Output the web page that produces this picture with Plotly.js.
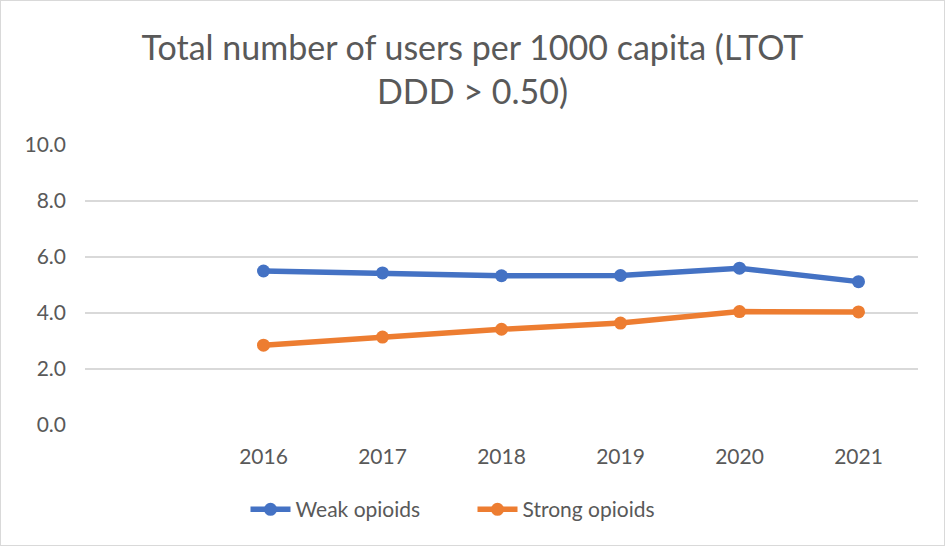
<!DOCTYPE html>
<html>
<head>
<meta charset="utf-8">
<script src="https://cdn.plot.ly/plotly-3.0.1.min.js"></script>
<style>
  html, body { margin: 0; padding: 0; background: #fff; }
  #chart { width: 943px; height: 544px; border: 1px solid #d9d9d9; }
</style>
</head>
<body>
<div id="chart"></div>
<script>
const years = [2016, 2017, 2018, 2019, 2020, 2021];
const yearLabels = ["2016", "2017", "2018", "2019", "2020", "2021"];
const weakOpioids = [5.50, 5.43, 5.33, 5.34, 5.60, 5.12];
const strongOpioids = [2.85, 3.14, 3.42, 3.64, 4.05, 4.04];
const yTicks = [0, 2, 4, 6, 8, 10];
const yTickLabels = ["0.0", "2.0", "4.0", "6.0", "8.0", "10.0"];

const fontFam = "Lato, 'Open Sans', sans-serif";
const grey = "#595959";

const traces = [
  {
    x: years, y: weakOpioids, name: "Weak opioids", type: "scatter", mode: "lines+markers",
    line: { color: "#4472C4", width: 5.5 },
    marker: { color: "#4472C4", size: 13 }
  },
  {
    x: years, y: strongOpioids, name: "Strong opioids", type: "scatter", mode: "lines+markers",
    line: { color: "#ED7D31", width: 5.5 },
    marker: { color: "#ED7D31", size: 13 }
  }
];

const layout = {
  width: 943, height: 544,
  paper_bgcolor: "#ffffff", plot_bgcolor: "#ffffff",
  margin: { l: 84, r: 26, t: 144, b: 120 },
  font: { family: fontFam, color: grey, size: 21 },
  title: {
    text: "Total number of users per 1000 capita (LTOT<br>DDD > 0.50)",
    font: { family: fontFam, size: 34, color: grey },
    x: 0.5, xanchor: "center", y: 0.892, yanchor: "middle"
  },
  xaxis: {
    range: [2014.5, 2021.5],
    tickvals: years, ticktext: yearLabels,
    showgrid: false, zeroline: false, showline: false, ticks: "",
    ticklen: 0, ticklabelstandoff: 17,
    tickfont: { size: 21, color: grey }, fixedrange: true
  },
  yaxis: {
    range: [0, 10],
    tickvals: yTicks, ticktext: yTickLabels,
    showgrid: true, gridcolor: "#d9d9d9", gridwidth: 1.3,
    zeroline: false, showline: false, ticks: "",
    ticklabelstandoff: 18,
    tickfont: { size: 21, color: grey }, fixedrange: true
  },
  legend: {
    orientation: "h", xref: "container", yref: "container",
    x: 0.5, xanchor: "center", y: 0.065, yanchor: "middle",
    font: { size: 21, color: grey }, itemwidth: 40, entrywidth: 172
  },
  showlegend: true
};

Plotly.newPlot("chart", traces, layout, { displayModeBar: false, staticPlot: true });
</script>
</body>
</html>
